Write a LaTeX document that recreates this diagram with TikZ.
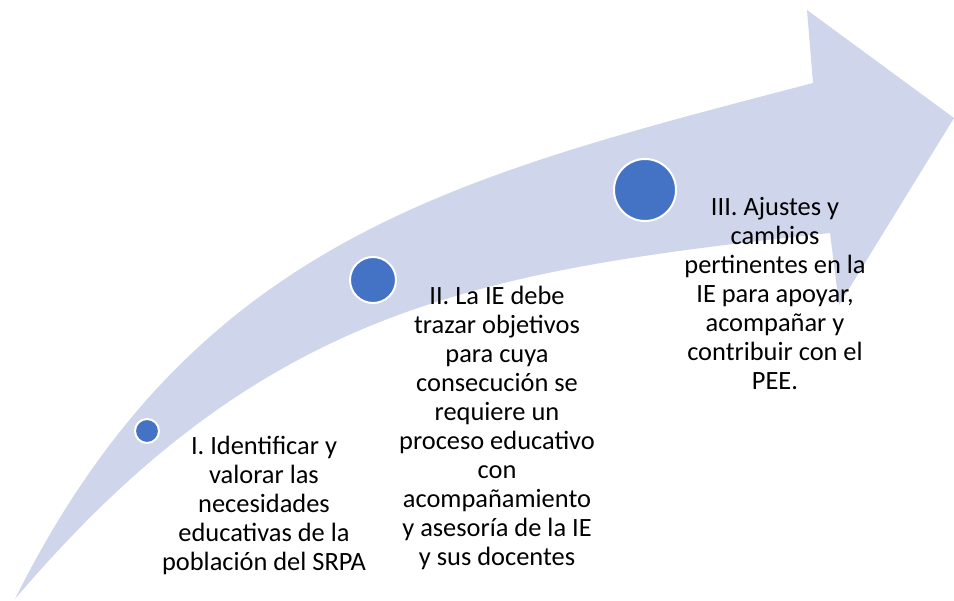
\documentclass[tikz,border=0pt]{standalone}
\usepackage{fontspec}
\setmainfont{Carlito}
\definecolor{arrowfill}{HTML}{CFD5EA}
\definecolor{dotblue}{HTML}{4472C4}
\begin{document}
\begin{tikzpicture}[x=1pt,y=-1pt,
  dot/.style={circle,fill=dotblue,draw=white,line width=2pt,inner sep=0pt},
  label/.style={align=center,font=\fontsize{26.4}{29}\selectfont,text=black,inner sep=0pt}]
\useasboundingbox (0,0) rectangle (954,601);
\fill[arrowfill] (15,599) .. controls (195,238) and (458,176) .. (813,83)
  -- (807,10) -- (954,118) -- (839,305) -- (830,233)
  .. controls (480,271) and (265,305) .. (15,599) -- cycle;
\node[dot,minimum size=24pt] (c1) at (147,431) {};
\node[dot,minimum size=46pt] (c2) at (373,280) {};
\node[dot,minimum size=62pt] (c3) at (645,190) {};
\node[label] (t1) at (264,505) {I. Identificar y\\valorar las\\necesidades\\educativas de la\\población del SRPA};
\node[label] (t2) at (497,428) {II. La IE debe\\trazar objetivos\\para cuya\\consecución se\\requiere un\\proceso educativo\\con\\acompañamiento\\y asesoría de la IE\\y sus docentes};
\node[label] (t3) at (775,294) {III. Ajustes y\\cambios\\pertinentes en la\\IE para apoyar,\\acompañar y\\contribuir con el\\PEE.};
\end{tikzpicture}
\end{document}
